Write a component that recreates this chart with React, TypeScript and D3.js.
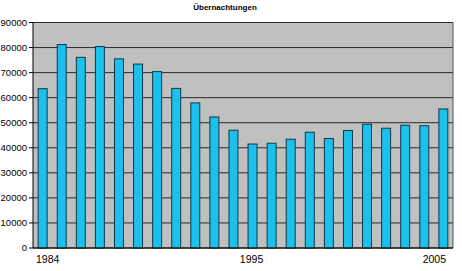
import React from "react";
import * as d3 from "d3";

const years = [1984,1985,1986,1987,1988,1989,1990,1991,1992,1993,1994,1995,1996,1997,1998,1999,2000,2001,2002,2003,2004,2005];
const values = [63600,81200,76100,80400,75500,73400,70400,63700,57900,52300,47000,41500,41800,43400,46200,43700,46900,49400,47800,49000,48800,55500];
const yTicks = [0,10000,20000,30000,40000,50000,60000,70000,80000,90000];
const xLabels = [1984, 1995, 2005];
const title = "Übernachtungen";

export default function App() {
  const W = 462, H = 271;
  const left = 33, right = 453, top = 22.5, bottom = 248;
  const x = d3.scaleBand<number>().domain(years).range([left, right]).paddingInner(0.53).paddingOuter(0.27);
  const y = d3.scaleLinear().domain([0, 90000]).range([bottom, top]);
  const labelDx: Record<number, number> = { 1984: 5, 1995: -1, 2005: -9 };
  const font = "Arial, 'Liberation Sans', sans-serif";
  return (
    <svg width={W} height={H} style={{ position: "absolute", left: 0, top: 0, background: "#fff" }}>
      <text x={225} y={9.5} textAnchor="middle" fontFamily={font} fontSize={8} fontWeight="bold" fill="#000">{title}</text>
      <rect x={left} y={top} width={right - left} height={bottom - top} fill="#c0c0c0" />
      {yTicks.map(t => (
        <g key={t}>
          <line x1={left} x2={right} y1={y(t)} y2={y(t)} stroke="#2a2a2a" strokeWidth={1} />
          <line x1={left - 4} x2={left} y1={y(t)} y2={y(t)} stroke="#000" strokeWidth={1} />
          <text x={27} y={y(t)} dy="0.35em" textAnchor="end" fontFamily={font} fontSize={9.5} fill="#000">{t}</text>
        </g>
      ))}
      {years.map((yr, i) => (
        <rect key={yr} x={x(yr)!} y={y(values[i])} width={x.bandwidth()} height={bottom - y(values[i])}
          fill="#1cc0ec" stroke="#0b3a4a" strokeWidth={1} />
      ))}
      <line x1={left} x2={left} y1={top} y2={bottom} stroke="#000" strokeWidth={1} />
      <line x1={right} x2={right} y1={top} y2={bottom} stroke="#555" strokeWidth={1} />
      <line x1={left} x2={right} y1={bottom} y2={bottom} stroke="#000" strokeWidth={1} />
      {xLabels.map(yr => (
        <text key={yr} x={x(yr)! + x.bandwidth() / 2 + labelDx[yr]} y={263} textAnchor="middle" fontFamily={font} fontSize={10.5} fill="#000">{yr}</text>
      ))}
    </svg>
  );
}
